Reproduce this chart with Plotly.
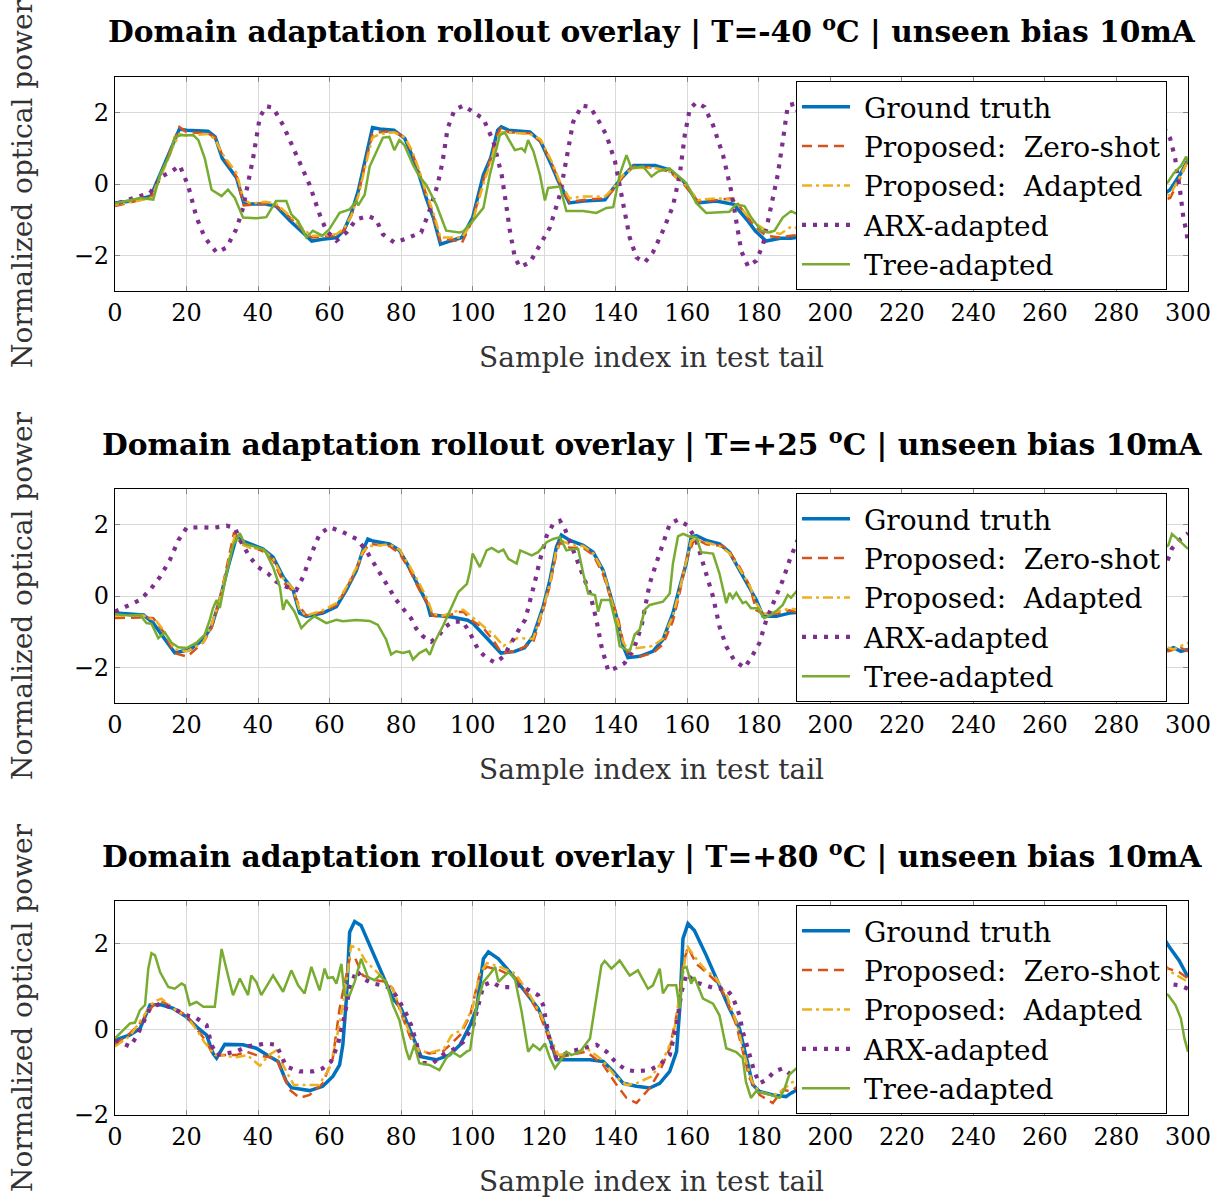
import plotly.graph_objects as go

# ---------------- data (x = sample index, y = normalized optical power) ----------------
TITLES = ["Domain adaptation rollout overlay | T=-40 <sup>o</sup>C | unseen bias 10mA",
          "Domain adaptation rollout overlay | T=+25 <sup>o</sup>C | unseen bias 10mA",
          "Domain adaptation rollout overlay | T=+80 <sup>o</sup>C | unseen bias 10mA"]
SERIES_NAMES = ["Ground truth", "Proposed:  Zero-shot", "Proposed:  Adapted", "ARX-adapted", "Tree-adapted"]
X_TICKS = list(range(0, 301, 20))
Y_TICKS = [-2, 0, 2]

# ---- Panel 1 (T=-40 C) ----
P1_GT_X = [0,5,10,13,16,18,20,26,28,30,34,36,38,42,45,49,53,55,58,62,64,66,68,70,72,74,78,81,83,85,87,89,91,94,97,100,103,105,107,108,110,116,119,122,124,127,131,137,139,142,145,151,155,159,163,168,173,177,179,182,186,189,
           194,198,202,206,212,216,220,224,230,236,240,244,250,254,258,262,268,272,276,280,286,290,295,298,300]
P1_GT_Y = [-0.53,-0.47,-0.34,0.35,1.05,1.54,1.51,1.48,1.32,0.72,0.17,-0.53,-0.56,-0.56,-0.62,-1.04,-1.41,-1.6,-1.55,-1.5,-1.3,-0.85,-0.2,0.72,1.58,1.54,1.51,1.28,0.81,0.26,-0.39,-0.94,-1.69,-1.59,-1.5,-0.94,0.26,0.72,1.51,1.6,1.51,1.46,1.19,0.54,0.07,-0.53,-0.48,-0.44,-0.16,0.21,0.52,0.52,0.4,0.07,-0.53,-0.48,-0.57,-1.04,-1.31,-1.6,-1.52,-1.52,
           -1.45,-0.8,0.5,1.5,1.5,1.2,0.2,-0.55,-0.55,-0.6,-1.2,-1.6,-1.55,-0.5,1.0,1.55,1.5,0.9,-0.3,-0.6,-0.7,-0.5,-0.16,0.3,0.68]
P1_ZS_X = P1_GT_X
P1_ZS_Y = [-0.62,-0.5,-0.38,0.3,1.1,1.6,1.45,1.42,1.3,0.8,0.2,-0.6,-0.58,-0.55,-0.6,-0.95,-1.35,-1.5,-1.48,-1.45,-1.3,-0.9,-0.3,0.6,1.4,1.45,1.48,1.3,0.9,0.35,-0.3,-0.9,-1.6,-1.55,-1.65,-1.0,0.1,0.7,1.4,1.6,1.45,1.42,1.2,0.6,0.1,-0.5,-0.45,-0.4,-0.2,0.2,0.5,0.45,0.35,0.0,-0.5,-0.45,-0.4,-0.95,-1.2,-1.45,-1.5,-1.45,
           -1.4,-0.7,0.6,1.45,1.45,1.1,0.3,-0.5,-0.5,-0.55,-1.1,-1.5,-1.5,-0.4,1.05,1.5,1.45,0.85,-0.2,-0.55,-0.7,-0.55,-0.39,0.2,0.7]
P1_AD_X = P1_GT_X
P1_AD_Y = [-0.58,-0.48,-0.4,0.25,1.0,1.4,1.35,1.4,1.25,0.85,0.3,-0.45,-0.55,-0.5,-0.55,-0.9,-1.3,-1.45,-1.45,-1.4,-1.25,-0.9,-0.35,0.5,1.3,1.4,1.45,1.3,0.95,0.4,-0.25,-0.8,-1.5,-1.5,-1.5,-1.05,0.0,0.6,1.3,1.45,1.45,1.4,1.25,0.65,0.15,-0.4,-0.35,-0.35,-0.15,0.25,0.45,0.45,0.35,0.05,-0.45,-0.4,-0.45,-0.9,-1.1,-1.3,-1.4,-1.2,
           -1.3,-0.7,0.55,1.4,1.4,1.1,0.3,-0.45,-0.5,-0.5,-1.1,-1.45,-1.45,-0.45,0.95,1.45,1.4,0.85,-0.2,-0.5,-0.65,-0.5,-0.3,0.25,0.65]
P1_ARX = [(1,-0.53),(9.8,-0.25),(13,0.21),(15.8,0.35),(18.1,0.52),(20.5,-0.06),(22.8,-0.94),(25.1,-1.5),(28.4,-1.92),(31.2,-1.78),(33.9,-1.27),(35.8,-0.67),(38.6,0.72),(40.5,1.88),(42.3,2.18),(44.2,2.14),(47,1.65),(50.7,0.81),(54.4,-0.02),(57.2,-0.85),(59.1,-1.31),(61.9,-1.59),(64.7,-1.36),(67.5,-0.99),(70.7,-0.9),(73,-0.99),(74.9,-1.41),(78.1,-1.64),(80.9,-1.55),(85.6,-1.36),(87.9,-0.76),(90.2,-0.02),(91.6,0.63),(93,1.56),(94.9,2.07),(97.4,2.2),(99.7,2.04),(103,1.83),(105.8,1.19),(108.1,0.26),(109.5,-0.67),(110.4,-1.31),(111.8,-2.06),(113.2,-2.33),(116,-2.2),(118.8,-1.69),(121.6,-1.22),(124.4,-0.3),(126.7,0.91),(128.1,1.74),(130.5,2.2),(132.8,2.16),(134.6,1.88),(137.4,1.37),(139.8,0.63),(142,-0.48),(143.9,-1.5),(145.8,-2.06),(148.1,-2.2),(150.4,-1.92),(153.2,-1.31),(156,-0.62),(157.9,0.26),(159.3,1.37),(160.7,2.11),(162.5,2.28),(164.8,2.16),(167.2,1.65),(170,0.81),(172.3,-0.2),(173.7,-1.04),(175.1,-1.88),(177,-2.31),(179.3,-2.15),(181.2,-1.69),(183,-0.85),(185.3,0.26),(186.7,1.19),(188.1,2.2),
          (190,2.25),(193,1.5),(196,0),(199,-1.6),(202,-2.3),(205,-1.8),(208,-0.5),(211,1.2),(214,2.2),(217,2.0),(220,0.8),(223,-0.8),(226,-2.1),(229,-2.2),(232,-1.2),(235,0.5),(238,1.9),(241,2.2),(244,1.2),(247,-0.4),(250,-1.9),(253,-2.3),(256,-1.4),(259,0.3),(262,1.8),(265,2.2),(268,1.4),(271,-0.2),(274,-1.8),(277,-2.3),(280,-1.6),(283,-0.2),(286,1.2),(289,2.0),(292,1.8),(295,1.28),(296.4,0.72),(297.8,-0.2),(298.7,-0.94),(299.6,-1.36),(300,-1.69)]
P1_TREE = [(0,-0.55),(7,-0.39),(10.7,-0.44),(12.6,0.26),(15.3,0.81),(16.7,1.32),(18.6,1.37),(21.9,1.37),(23.3,1.23),(25.1,0.72),(27,-0.16),(29.8,-0.34),(31.6,-0.16),(33.5,-0.39),(35.8,-0.94),(39.5,-0.96),(42.3,-0.93),(45,-0.48),(47.9,-0.48),(49.3,-0.85),(51.2,-1.04),(53.5,-1.5),(55.3,-1.31),(58,-1.45),(59.9,-1.27),(62.8,-0.81),(65.6,-0.71),(67.5,-0.48),(68,-0.6),(69.8,-0.3),(71.2,0.49),(73,0.91),(74.9,1.3),(76.7,1.32),(78.1,0.95),(79.5,1.23),(80.9,1.09),(83.3,0.54),(85.1,0.21),(87,-0.02),(89.8,-0.57),(92.6,-1.31),(96.3,-1.36),(97.4,-1.33),(100,-1.04),(103,-0.67),(104.8,0.26),(107.6,1.37),(109,1.44),(111.8,0.95),(113.7,1.0),(114.6,0.91),(115.5,1.23),(117,0.91),(118.8,0.26),(120.2,-0.46),(121.1,-0.11),(124.4,-0.07),(126.2,-0.76),(130.9,-0.76),(134.6,-0.81),(137.4,-0.67),(139.3,-0.65),(141.1,0.26),(143,0.81),(144.4,0.44),(147.6,0.49),(150,0.21),(151.8,0.35),(155,0.44),(157.9,0.17),(159.7,0.03),(162.5,-0.53),(165.3,-0.81),(171.8,-0.78),(173.6,-0.57),(176,-0.62),(177.9,-0.94),(180.7,-1.31),(183,-1.36),(184.4,-1.31),(186.7,-0.94),(189,-0.76),
           (192,-0.9),(196,-1.2),(200,-0.2),(204,0.9),(208,1.3),(212,1.1),(216,0.6),(220,-0.2),(224,-0.8),(228,-0.6),(232,-0.9),(236,-0.7),(240,-1.3),(244,-1.4),(248,-1.2),(252,-0.3),(256,0.8),(260,1.3),(264,1.2),(268,1.0),(272,0.3),(276,-0.6),(280,-0.8),(284,-0.7),(288,-0.5),(292,-0.2),(294.5,0.07),(296,0.3),(298,0.5),(299.5,0.77),(300,0.6)]

# ---- Panel 2 (T=+25 C) ----
P2_GT = [(0,-0.48),(8,-0.53),(10.7,-0.76),(13.5,-1.13),(16.7,-1.59),(20.9,-1.5),(24.7,-1.22),(27,-0.85),(29.3,-0.11),(31.6,0.81),(34,1.67),(35.3,1.56),(37.7,1.46),(41.4,1.32),(44.2,1.09),(47,0.54),(49.8,0.17),(51.6,-0.48),(53.5,-0.57),(58.1,-0.48),(61.9,-0.3),(64.7,0.17),(67.5,0.72),(69.3,1.28),(70.7,1.6),(72.1,1.54),(76.7,1.46),(79.5,1.28),(81.7,0.9),(84.5,0.34),(87.3,-0.21),(88.2,-0.54),(89.5,-0.54),(94.2,-0.59),(98.6,-0.68),(100,-0.76),(102.3,-1.0),(106,-1.42),(107.9,-1.6),(111.6,-1.56),(114.5,-1.45),(116.9,-1.13),(119.7,-0.3),(121.6,0.44),(123.4,1.37),(124.8,1.71),(127.2,1.56),(130.9,1.42),(133.7,1.23),(136.5,0.72),(138.4,0.07),(140.2,-0.57),(142.1,-1.41),(143.4,-1.73),(146.7,-1.69),(150.4,-1.55),(153.2,-1.22),(156,-0.48),(157.9,0.26),(159.7,0.91),(161.1,1.65),(162.5,1.69),(165.3,1.56),(169,1.46),(171.8,1.23),(174.7,0.72),(177.4,0.26),(179.3,-0.11),(181.2,-0.57),(184.9,-0.57),(188.6,-0.48),
         (192,-0.45),(196,-0.7),(200,-1.1),(204,-1.55),(208,-1.5),(212,-0.9),(215,0.4),(218,1.6),(222,1.5),(226,1.2),(230,0.3),(233,-0.55),(238,-0.5),(242,0.3),(246,1.5),(250,1.5),(254,1.0),(258,-0.2),(262,-0.6),(266,-0.8),(270,-1.3),(274,-1.6),(280,-1.5),(286,-1.5),(290,-1.55),(294.5,-1.5),(296,-1.45),(298,-1.55),(300,-1.5)]
P2_ZS = [(0,-0.62),(8,-0.6),(10.7,-0.62),(13.5,-1.0),(16.7,-1.6),(20.2,-1.7),(24.7,-1.3),(27,-0.9),(29.3,-0.1),(31.6,1.0),(33.3,1.79),(35.3,1.5),(37.7,1.4),(41.4,1.25),(44.2,1.0),(47,0.4),(49.8,0.12),(51.6,-0.3),(53.5,-0.55),(58.1,-0.45),(61.9,-0.25),(64.7,0.2),(67.5,0.75),(69.3,1.2),(71,1.45),(72.1,1.45),(76.7,1.4),(79.5,1.2),(82.3,0.75),(85.1,0.17),(87.4,-0.2),(88.8,-0.55),(91.6,-0.6),(96.3,-0.45),(97.4,-0.44),(100,-0.7),(103,-0.9),(105.8,-1.25),(108.1,-1.6),(112,-1.55),(116.9,-1.3),(119.7,-0.4),(121.6,0.3),(123.4,1.2),(124.4,1.5),(127.2,1.35),(130.9,1.35),(133.7,1.15),(136.5,0.6),(138.4,0.0),(140.6,-0.6),(142.1,-1.3),(143.4,-1.6),(146.7,-1.7),(150.4,-1.6),(153.2,-1.35),(156,-0.7),(157.9,0.1),(159.7,1.0),(161.6,1.5),(162.5,1.6),(165.3,1.45),(170,1.4),(171.8,1.25),(174.7,0.8),(177.4,0.3),(179.3,-0.4),(181.2,-0.5),(184.9,-0.5),(188.6,-0.4),
         (192,-0.5),(196,-0.75),(200,-1.15),(204,-1.6),(208,-1.5),(212,-0.8),(215,0.5),(218,1.5),(222,1.45),(226,1.1),(230,0.2),(233,-0.6),(238,-0.5),(242,0.3),(246,1.4),(250,1.45),(254,0.9),(258,-0.3),(262,-0.65),(266,-0.85),(270,-1.35),(274,-1.65),(280,-1.5),(286,-1.55),(290,-1.5),(294.5,-1.55),(296,-1.5),(298,-1.45),(300,-1.55)]
P2_AD = [(0,-0.55),(8,-0.55),(11.6,-0.71),(13.5,-0.95),(16.7,-1.5),(20.2,-1.55),(24.7,-1.3),(27,-0.8),(29.3,-0.1),(31.6,0.9),(33.5,1.7),(35.3,1.45),(37.7,1.35),(41.4,1.3),(44.2,1.05),(47,0.5),(49.8,0.2),(51.6,-0.4),(53.5,-0.55),(58.1,-0.4),(61.9,-0.2),(64.7,0.25),(67.5,0.8),(69.3,1.25),(71,1.4),(72.1,1.4),(76.7,1.45),(79.5,1.3),(82.3,0.85),(85.1,0.35),(87.4,-0.1),(88.8,-0.5),(91.6,-0.55),(96.3,-0.4),(97.4,-0.39),(100,-0.6),(103,-0.85),(105.8,-1.08),(108.6,-1.4),(112.5,-1.18),(116.9,-1.2),(119.7,-0.35),(121.6,0.35),(123.4,1.3),(124.8,1.55),(127.2,1.45),(130.9,1.4),(133.7,1.2),(136.5,0.7),(138.4,0.05),(140.2,-0.6),(142.1,-1.3),(143.4,-1.5),(146.7,-1.45),(150.4,-1.4),(153.2,-1.2),(156,-0.55),(157.9,0.2),(159.7,0.95),(161.1,1.55),(162.5,1.6),(165.3,1.5),(169,1.4),(171.8,1.2),(174.7,0.75),(177.4,0.3),(179.3,-0.2),(181.2,-0.5),(184.9,-0.45),(188.6,-0.35),
         (192,-0.4),(196,-0.65),(200,-1.05),(204,-1.5),(208,-1.4),(212,-0.85),(215,0.45),(218,1.5),(222,1.4),(226,1.15),(230,0.3),(233,-0.5),(238,-0.45),(242,0.35),(246,1.45),(250,1.4),(254,0.95),(258,-0.2),(262,-0.55),(266,-0.8),(270,-1.25),(274,-1.55),(280,-1.45),(286,-1.45),(290,-1.45),(294.5,-1.45),(296,-1.5),(298,-1.4),(300,-1.31)]
P2_ARX = [(0,-0.44),(4.2,-0.25),(7,-0.11),(9.8,0.17),(12.6,0.54),(15.3,1.0),(17.7,1.56),(20,1.91),(23.7,1.93),(27.4,1.91),(31.2,1.97),(33.5,1.91),(35.3,1.51),(37.7,1.09),(40,0.81),(42.8,0.63),(45.1,0.4),(47.9,0.26),(50.7,0.17),(52.6,0.54),(54.4,1.05),(57.2,1.74),(60,1.93),(63.7,1.79),(67.5,1.6),(70.2,1.28),(73,0.81),(75.8,0.35),(78.6,-0.11),(80.9,-0.4),(82.8,-0.63),(84.2,-0.91),(86.1,-1.13),(88.4,-1.28),(90.6,-1.1),(92.2,-0.87),(94.5,-0.72),(97.2,-0.72),(99,-0.99),(100.4,-1.27),(101.6,-1.52),(103.8,-1.73),(106.3,-1.87),(108.6,-1.7),(111.4,-1.19),(113.1,-0.91),(114.7,-0.66),(116.2,-0.12),(117.4,0.4),(118.8,1.0),(120.7,1.69),(122.5,2.02),(124.4,2.11),(125.8,1.88),(128.1,1.28),(130.5,0.63),(132.8,0.07),(134.6,-0.67),(136,-1.41),(137.9,-2.1),(140.2,-2.01),(142.5,-1.88),(145.3,-1.41),(147.2,-0.85),(149.5,0.35),(151.3,0.91),(153.2,1.51),(155.1,2.02),(157.4,2.14),(160.2,1.97),(162.5,1.56),(164.9,0.72),(167.2,-0.02),(169,-0.85),(170.9,-1.41),(173.2,-1.82),(176,-2.01),(177.9,-1.73),(180.2,-1.31),(182.1,-0.67),(184.4,-0.11),(186.7,0.44),(188.6,1.0),
          (191,1.6),(194,2.0),(197,1.6),(200,0.6),(203,-0.5),(206,-1.5),(209,-2.0),(212,-1.6),(215,-0.5),(218,0.8),(221,1.8),(224,2.1),(227,1.7),(230,0.7),(233,-0.5),(236,-1.6),(239,-2.0),(242,-1.5),(245,-0.4),(248,0.8),(251,1.8),(254,2.1),(257,1.6),(260,0.5),(263,-0.7),(266,-1.7),(269,-2.0),(272,-1.5),(275,-0.4),(278,0.6),(281,1.3),(284,1.6),(288,1.4),(292,1.1),(294.5,1.05),(295.5,1.33),(297.5,1.56),(300,1.76)]
P2_TREE = [(0,-0.51),(4.2,-0.55),(7,-0.53),(8.8,-0.76),(10.2,-0.78),(12.1,-1.18),(13.9,-1.02),(15.8,-1.31),(17.7,-1.44),(20,-1.46),(22.8,-1.31),(25.1,-1.08),(26.5,-0.67),(27.4,-0.34),(28.4,-0.11),(29.3,-0.34),(31.2,0.63),(33,1.42),(34.9,1.76),(36.3,1.46),(39.5,1.37),(41.9,1.28),(44.2,0.81),(46.1,0.26),(47,-0.39),(47.9,-0.11),(50.2,-0.44),(52.1,-0.9),(53.9,-0.71),(55.8,-0.57),(59.1,-0.76),(61.9,-0.67),(63.7,-0.71),(67.5,-0.67),(71.2,-0.7),(73.5,-0.81),(75.8,-1.22),(77.2,-1.64),(78.6,-1.55),(80.5,-1.6),(82.3,-1.55),(83.3,-1.78),(85.1,-1.6),(87,-1.5),(88,-1.65),(89.4,-1.28),(91.8,-0.82),(94.6,-0.21),(96,0.11),(98.4,0.34),(99.3,0.72),(100,1.19),(102,0.81),(103.9,1.28),(105.3,1.35),(107.2,1.23),(108.6,1.3),(110,1.04),(112.3,0.91),(113.3,1.28),(114.6,1.23),(116.5,1.14),(118.3,1.23),(120.7,1.51),(122.5,1.6),(124.4,1.65),(126.2,1.28),(128.1,1.32),(129.5,1.32),(130.9,0.63),(132.3,0.07),(134.2,0.03),(135.1,-0.44),(136,-0.11),(138.4,-0.11),(140.2,-0.85),(141.1,-1.41),(143.9,-1.55),(145.3,-1.08),(146.7,-0.94),(148.1,-0.39),(149.5,-0.25),(153.2,-0.16),(155.1,0.07),(156,0.91),(157.4,1.67),(158.8,1.74),(160.6,1.67),(162.5,1.65),(163.9,1.23),(167.2,1.19),(169,0.63),(170.9,-0.2),(171.8,0.09),(172.7,-0.06),(173.7,0.09),(175.5,-0.2),(176.4,-0.16),(177.8,-0.34),(179.7,-0.34),(181.5,-0.62),(183.4,-0.53),(185.2,-0.39),(186.7,-0.25),(188.1,0.03),(189,-0.05),
           (192,0.3),(196,-0.5),(200,-1.2),(204,-1.5),(208,-1.0),(212,0.5),(216,1.4),(220,1.6),(224,1.3),(228,0.5),(232,-0.3),(236,-0.6),(240,0.4),(244,1.3),(248,1.6),(252,1.1),(256,0.3),(260,-0.5),(264,-1.0),(268,-0.4),(272,0.6),(276,1.2),(280,1.4),(284,1.5),(288,1.4),(292,1.3),(294.5,1.42),(295.5,1.74),(297.5,1.56),(300,1.32)]

# ---- Panel 3 (T=+80 C) ----
P3_GT = [(0,-0.25),(4.2,-0.13),(7,0.02),(9.8,0.57),(12.6,0.58),(16.3,0.49),(20,0.29),(22.8,0.06),(25.6,-0.13),(27.4,-0.56),(28.4,-0.67),(30.7,-0.35),(35.8,-0.36),(39.5,-0.44),(43.3,-0.64),(45.6,-0.75),(47.9,-1.22),(49.3,-1.36),(54.4,-1.43),(58.1,-1.33),(60.9,-1.1),(62.8,-0.83),(63.7,-0.36),(64.7,0.72),(65.6,2.27),(67,2.52),(68.8,2.43),(72.1,1.81),(75.8,1.07),(77.7,0.72),(80,0.49),(82.3,0.02),(84.2,-0.4),(85.6,-0.64),(89.8,-0.71),(93.5,-0.6),(96.5,-0.36),(99.3,0.1),(101.1,0.49),(103,1.65),(104.4,1.81),(107.2,1.65),(110.4,1.34),(114.1,0.95),(118.3,0.49),(120.7,0.02),(122.1,-0.36),(123.4,-0.71),(127.2,-0.71),(132.8,-0.71),(136.5,-0.75),(139.3,-0.98),(142.1,-1.26),(145.8,-1.33),(149.5,-1.37),(152.3,-1.26),(155.1,-0.98),(157,-0.52),(157.9,0.49),(158.8,2.12),(160.2,2.47),(162,2.31),(165.3,1.73),(169,1.03),(171.8,0.49),(174.6,0.02),(176.4,-0.6),(178.3,-1.29),(180.2,-1.45),(183.9,-1.53),(187.6,-1.57),(189,-1.49),
         (193,-1.3),(197,-0.8),(200,0.0),(202,1.5),(204,2.3),(207,2.0),(211,1.3),(215,0.6),(218,-0.2),(221,-0.7),(226,-0.75),(230,-0.9),(234,-1.3),(238,-1.4),(242,-1.2),(245,-0.4),(247,1.2),(249,2.3),(252,2.1),(256,1.4),(260,0.6),(264,-0.3),(267,-1.2),(271,-1.5),(276,-1.5),(280,-1.2),(284,-0.4),(287,0.8),(290,2.2),(292,2.3),(294.5,1.96),(297.5,1.61),(300,1.22)]
P3_ZS = [(0,-0.36),(4.2,-0.09),(7.9,0.22),(10.7,0.57),(13.5,0.64),(17.2,0.45),(20,0.33),(22.8,0.02),(25.6,-0.29),(27.4,-0.6),(30.7,-0.6),(33.9,-0.6),(36.7,-0.52),(39.5,-0.6),(42.3,-0.64),(45.1,-0.67),(47,-1.06),(48.8,-1.41),(51.6,-1.6),(54.4,-1.53),(58.1,-1.26),(60.9,-0.67),(62.8,0.49),(64.2,1.11),(65.6,1.65),(67,1.69),(69.3,1.26),(73,1.15),(75.8,1.11),(77.7,0.95),(79.5,0.49),(82.3,-0.13),(84.2,-0.48),(87.9,-0.56),(91.6,-0.52),(93.7,-0.36),(96.5,-0.13),(99.3,0.33),(102.1,1.34),(104,1.46),(107.7,1.38),(112.3,1.19),(116.1,0.72),(118.8,0.33),(121.6,-0.29),(123.5,-0.67),(127.2,-0.6),(131.8,-0.52),(136.5,-0.83),(140.2,-1.29),(143,-1.6),(145.8,-1.72),(149.5,-1.37),(152.3,-0.98),(155.1,-0.44),(157.4,0.49),(158.8,1.53),(160.2,1.92),(162.5,1.53),(165.3,1.34),(168.1,1.11),(170.9,0.72),(173.7,0.1),(175.5,-0.52),(177.4,-1.14),(180.2,-1.53),(183.9,-1.72),(186.7,-1.41),(189,-1.45),
         (193,-1.2),(197,-0.6),(200,0.3),(203,1.5),(205,1.9),(208,1.5),(212,1.1),(216,0.5),(220,-0.5),(224,-0.6),(228,-0.7),(232,-1.2),(236,-1.6),(240,-1.4),(244,-0.6),(247,1.0),(249,1.8),(252,1.6),(256,1.2),(260,0.6),(264,-0.3),(267,-1.2),(271,-1.6),(276,-1.5),(280,-1.0),(284,-0.2),(287,0.9),(290,1.8),(292,1.6),(294.5,1.42),(297.5,1.34),(300,1.19)]
P3_AD = [(0,-0.4),(4.2,-0.15),(7.9,0.3),(10.7,0.64),(13,0.72),(17,0.45),(20,0.3),(22.8,0.0),(25,-0.3),(28,-0.6),(31,-0.62),(34,-0.65),(37,-0.6),(40.5,-0.85),(43,-0.6),(45,-0.5),(48,-1.0),(50,-1.3),(53,-1.3),(57,-1.3),(60,-0.9),(62,-0.2),(64,0.7),(66,1.95),(68,1.9),(70,1.6),(75,1.2),(78,0.9),(80,0.4),(83,-0.2),(85,-0.5),(88,-0.55),(92,-0.45),(94,-0.15),(97,0.0),(100,0.5),(102,1.3),(104,1.55),(108,1.45),(112,1.3),(116,0.8),(119,0.35),(122,-0.25),(124,-0.6),(128,-0.55),(132,-0.45),(136,-0.7),(140,-1.1),(143,-1.3),(146,-1.25),(150,-1.1),(153,-0.75),(156,-0.2),(158,0.9),(160,1.95),(162,1.7),(165,1.4),(168,1.2),(171,0.8),(174,0.1),(176,-0.6),(178,-1.2),(180,-1.45),(184,-1.55),(187,-1.4),(189,-1.25),
         (193,-1.1),(197,-0.5),(200,0.3),(203,1.5),(205,1.95),(208,1.6),(212,1.1),(216,0.5),(220,-0.4),(224,-0.5),(228,-0.6),(232,-1.1),(236,-1.4),(240,-1.3),(244,-0.5),(247,1.0),(249,1.9),(252,1.7),(256,1.2),(260,0.6),(264,-0.2),(267,-1.1),(271,-1.5),(276,-1.4),(280,-0.9),(284,-0.1),(287,0.9),(290,1.8),(292,1.6),(294.5,1.38),(298,1.22),(300,1.11)]
P3_ARX = [(0,-0.25),(4.2,-0.4),(6,-0.17),(7.9,0.18),(9.8,0.49),(12.6,0.6),(16.3,0.49),(20,0.33),(22.8,0.26),(25.6,0.1),(27,-0.36),(28.4,-0.6),(31.2,-0.56),(33.9,-0.52),(36.7,-0.4),(39.5,-0.36),(42.3,-0.33),(45.1,-0.36),(46.5,-0.6),(47.9,-0.87),(51.6,-0.98),(55.3,-0.98),(58.1,-0.91),(60.4,-0.75),(62.3,-0.36),(64.2,0.33),(65.6,0.95),(67.5,1.38),(69.3,1.19),(72.1,1.07),(74.9,1.03),(77.2,0.95),(79.1,0.72),(81.4,0.37),(82.8,0.1),(84.2,-0.29),(85.6,-0.79),(88.8,-0.79),(91.6,-0.6),(94.4,-0.48),(97.4,-0.29),(100.2,0.1),(103,1.03),(105.3,1.11),(107.7,0.99),(110.4,0.99),(113.2,1.03),(116,0.91),(118.3,0.8),(119.7,0.57),(121.6,-0.29),(123.4,-0.67),(127.2,-0.52),(130.9,-0.44),(134.6,-0.36),(137.4,-0.52),(140.2,-0.79),(143,-0.95),(145.8,-0.98),(149.5,-0.95),(152.3,-0.83),(155.1,-0.6),(157,0.1),(158.4,0.88),(159.8,1.3),(162,1.11),(165.3,1.03),(168.1,0.95),(170.9,0.95),(172.7,0.76),(174.6,0.33),(175.5,-0.05),(176.9,-0.44),(178.7,-0.98),(180.2,-1.26),(182.1,-1.18),(184.4,-0.98),(186.7,-0.91),(189,-1.06),
          (193,-0.9),(197,-0.5),(200,0.4),(203,1.2),(206,1.1),(210,1.0),(214,0.8),(218,0.0),(222,-0.6),(226,-0.5),(230,-0.7),(234,-1.0),(238,-1.0),(242,-0.7),(245,0.2),(248,1.2),(251,1.1),(255,1.0),(259,0.6),(263,-0.2),(267,-0.9),(271,-1.2),(276,-1.0),(280,-0.8),(284,-0.1),(287,0.7),(290,1.1),(292,1.1),(294.5,1.07),(297.5,1.03),(300,0.95)]
P3_TREE = [(0,-0.21),(2.4,0.0),(4.2,0.14),(5.6,0.16),(7,0.45),(8.4,0.57),(9.3,1.42),(10.2,1.78),(11.2,1.73),(12.6,1.34),(14.9,0.99),(16.7,0.95),(18.6,1.07),(19.5,1.03),(20.9,0.57),(22.8,0.64),(24.7,0.53),(27.9,0.53),(29.8,1.88),(31.6,1.26),(33,0.8),(34.9,1.19),(37.2,0.8),(38.1,1.26),(39.5,1.11),(40.9,0.8),(44.2,1.26),(47,0.88),(49.3,1.38),(51.2,1.03),(53,0.84),(54.9,1.46),(57.2,0.91),(58.6,1.42),(59.5,1.2),(60.9,1.22),(61.9,1.07),(63.3,1.53),(64.2,0.8),(65.6,0.8),(67,1.11),(68.8,1.65),(70.7,1.22),(72.6,1.15),(74,1.26),(75.8,1.11),(77.7,0.57),(79.5,0.22),(81.4,-0.48),(82.3,-0.71),(83.7,-0.36),(85.1,-0.79),(87.9,-0.83),(90.7,-0.95),(92.6,-0.67),(94.4,-0.53),(96.5,-0.64),(98.3,-0.52),(99.3,-0.48),(101.1,0.57),(103,1.11),(104.9,1.3),(106.3,1.46),(107.2,1.11),(110,1.34),(111.8,1.19),(113.7,0.41),(115.5,-0.52),(116.9,-0.36),(118.8,-0.48),(120.2,-0.33),(121.6,-0.67),(123,-0.91),(124.4,-0.75),(126.2,-0.52),(127.6,-0.6),(130,-0.52),(132.8,-0.21),(134.6,0.72),(136,1.5),(136.9,1.6),(138.8,1.42),(141.1,1.61),(143.9,1.26),(146.2,1.38),(149,0.95),(150.4,1.03),(152.3,1.42),(153.2,0.84),(154.6,1.03),(156.9,1.03),(157.9,0.49),(158.8,1.42),(159.8,1.46),(161.1,1.07),(162,1.22),(164.4,0.72),(167.2,0.6),(169,0.33),(170.9,-0.44),(173.7,-0.53),(175.5,-0.67),(176.4,-1.22),(177.8,-1.6),(179.2,-1.45),(182,-1.5),(185.8,-1.6),(187.1,-1.41),(188.5,-1.06),
           (192,-0.8),(196,0.5),(199,1.4),(203,1.2),(207,1.5),(211,1.0),(215,1.3),(219,0.3),(223,-0.6),(227,-0.7),(231,-0.4),(235,-0.9),(239,-0.6),(243,0.4),(246,1.4),(250,1.2),(254,1.5),(258,0.9),(262,-0.2),(266,-0.9),(270,-1.4),(274,-1.2),(278,-0.5),(282,0.6),(286,1.2),(290,1.0),(294.5,0.8),(296.5,0.57),(298,0.26),(299,-0.21),(300,-0.52)]

Y_RANGES = [[-3, 3], [-3, 3], [-2, 3]]

# ---------------- styles ----------------
FONT = "DejaVu Serif"
STYLES = [
    dict(color="#0072BD", width=3.5, dash="solid"),
    dict(color="#D95319", width=2.5, dash="10px,6px"),
    dict(color="#EDB120", width=2.5, dash="10px,4px,3px,4px"),
    dict(color="#7E2F8E", width=4.2, dash="4px,7px"),
    dict(color="#77AC30", width=2.5, dash="solid"),
]

def unzip(pairs):
    return [p[0] for p in pairs], [p[1] for p in pairs]

panels = [
    [(P1_GT_X, P1_GT_Y), (P1_ZS_X, P1_ZS_Y), (P1_AD_X, P1_AD_Y), unzip(P1_ARX), unzip(P1_TREE)],
    [unzip(P2_GT), unzip(P2_ZS), unzip(P2_AD), unzip(P2_ARX), unzip(P2_TREE)],
    [unzip(P3_GT), unzip(P3_ZS), unzip(P3_AD), unzip(P3_ARX), unzip(P3_TREE)],
]

# layout geometry (paper fractions)
L, R, T, B = 115, 36, 77, 86
W, H = 1224, 1201
PH = H - T - B  # 1038
def py(p):  # pixel y -> paper y
    return (H - B - p) / PH
def px(p):
    return (p - L) / (W - L - R)

plot_tops = [77, 489, 901]
plot_h = 214

fig = go.Figure()
legend_names = ["legend", "legend2", "legend3"]
for i, series in enumerate(panels):
    sfx = "" if i == 0 else str(i + 1)
    for j, (xs, ys) in enumerate(series):
        assert len(xs) == len(ys), (i, j)
        fig.add_trace(go.Scatter(
            x=xs, y=ys, mode="lines", name=" " + SERIES_NAMES[j],
            line=STYLES[j], xaxis="x" + sfx, yaxis="y" + sfx,
            legend=legend_names[i], showlegend=True, hoverinfo="skip"))

layout = dict(width=W, height=H, margin=dict(l=L, r=R, t=T, b=B),
              paper_bgcolor="white", plot_bgcolor="white",
              font=dict(family=FONT, size=24, color="black"), annotations=[])
for i in range(3):
    sfx = "" if i == 0 else str(i + 1)
    top = plot_tops[i]
    dom = [py(top + plot_h), py(top)]
    layout["xaxis" + sfx] = dict(domain=[0, 1], anchor="y" + sfx, range=[0, 300],
                                 tickvals=X_TICKS, ticktext=[str(v) for v in X_TICKS],
                                 showgrid=True, gridcolor="#d9d9d9", gridwidth=1,
                                 showline=True, linecolor="black", linewidth=1.2, mirror="ticks",
                                 ticks="inside", ticklen=5, tickcolor="#888888",
                                 tickfont=dict(family=FONT, size=24), zeroline=False)
    layout["yaxis" + sfx] = dict(domain=dom, anchor="x" + sfx, range=Y_RANGES[i],
                                 tickvals=Y_TICKS, ticktext=["\u22122", "0", "2"],
                                 showgrid=True, gridcolor="#d9d9d9", gridwidth=1,
                                 showline=True, linecolor="black", linewidth=1.2, mirror="ticks",
                                 ticks="inside", ticklen=5, tickcolor="#888888",
                                 tickfont=dict(family=FONT, size=24), zeroline=False)
    layout[legend_names[i]] = dict(x=px(1167), xanchor="right", y=py(top + 4), yanchor="top",
                                   bgcolor="white", bordercolor="black", borderwidth=1,
                                   font=dict(family=FONT, size=28), itemwidth=48,
                                   tracegroupgap=0)
    # titles
    layout["annotations"].append(dict(text="<b>" + TITLES[i] + "</b>", x=0.5, y=py(top - 47),
                                      xref="paper", yref="paper", xanchor="center", yanchor="middle",
                                      showarrow=False, font=dict(family=FONT, size=29.7)))
    layout["annotations"].append(dict(text="Sample index in test tail", x=0.5, y=py(top + 280),
                                      xref="paper", yref="paper", xanchor="center", yanchor="middle",
                                      showarrow=False, font=dict(family=FONT, size=28, color="#333333")))
    layout["annotations"].append(dict(text="Normalized optical power", x=px(22), y=py(top + 107),
                                      xref="paper", yref="paper", xanchor="center", yanchor="middle",
                                      textangle=-90, showarrow=False,
                                      font=dict(family=FONT, size=28, color="#333333")))

fig.update_layout(**layout)
fig.write_html("out.html")
